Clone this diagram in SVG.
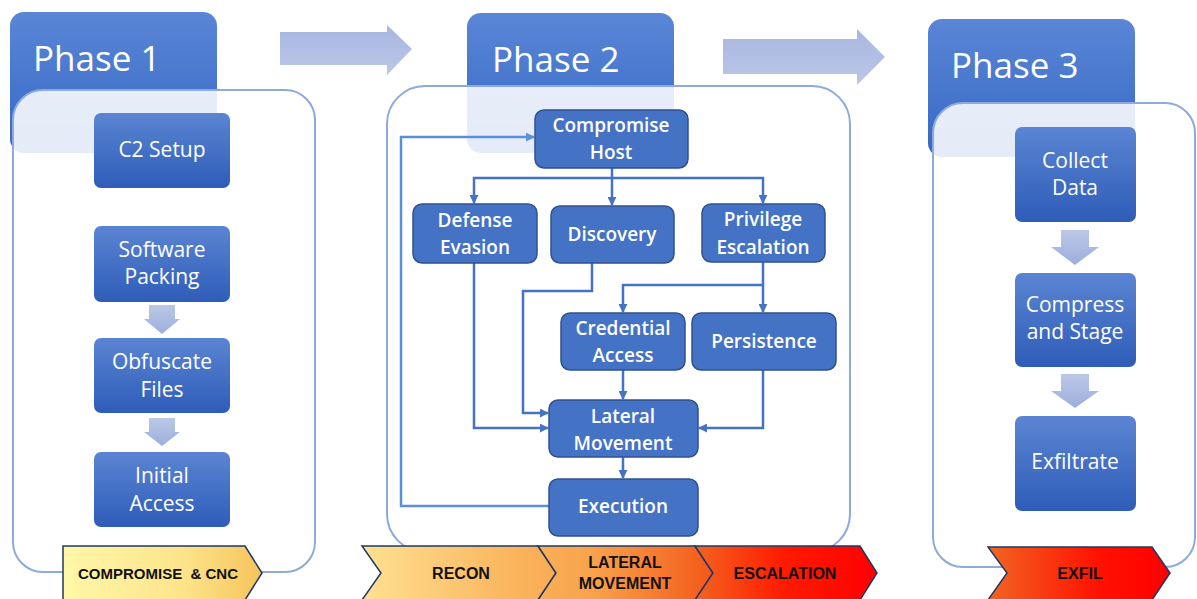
<svg xmlns="http://www.w3.org/2000/svg" width="1197" height="599" viewBox="0 0 1197 599">
<defs>
  <linearGradient id="gHdr" x1="0" y1="0" x2="0" y2="1">
    <stop offset="0" stop-color="#5A86D6"/>
    <stop offset="1" stop-color="#3568C4"/>
  </linearGradient>
  <linearGradient id="gNode" x1="0" y1="0" x2="0" y2="1">
    <stop offset="0" stop-color="#5B85D3"/>
    <stop offset="1" stop-color="#2E5CB8"/>
  </linearGradient>
  <linearGradient id="gDown" x1="0" y1="0" x2="0" y2="1">
    <stop offset="0" stop-color="#BCC8E8"/>
    <stop offset="1" stop-color="#9CAEDB"/>
  </linearGradient>
  <linearGradient id="gBig" x1="0" y1="0" x2="0" y2="1">
    <stop offset="0" stop-color="#A8B6DF"/>
    <stop offset="1" stop-color="#BCC7E8"/>
  </linearGradient>
  <linearGradient id="gB1" gradientUnits="userSpaceOnUse" x1="63" y1="0" x2="262" y2="0">
    <stop offset="0" stop-color="#FFF7A8"/>
    <stop offset="0.6" stop-color="#FDE48A"/>
    <stop offset="1" stop-color="#F6C45C"/>
  </linearGradient>
  <linearGradient id="gB2" gradientUnits="userSpaceOnUse" x1="362" y1="0" x2="877" y2="0">
    <stop offset="0" stop-color="#FFE192"/>
    <stop offset="0.3" stop-color="#FAB45C"/>
    <stop offset="0.45" stop-color="#F8A24C"/>
    <stop offset="0.65" stop-color="#F4621F"/>
    <stop offset="0.82" stop-color="#FF1A00"/>
    <stop offset="1" stop-color="#FF0000"/>
  </linearGradient>
  <linearGradient id="gB3" gradientUnits="userSpaceOnUse" x1="988" y1="0" x2="1170" y2="0">
    <stop offset="0" stop-color="#F26522"/>
    <stop offset="0.6" stop-color="#FF1200"/>
    <stop offset="1" stop-color="#FF0000"/>
  </linearGradient>
  <marker id="ah" viewBox="0 0 10 10" refX="9" refY="5" markerWidth="9" markerHeight="9" markerUnits="userSpaceOnUse" orient="auto">
    <path d="M0,0 L10,5 L0,10 Z" fill="#4472C4"/>
  </marker>
  <marker id="ahL" viewBox="0 0 10 10" refX="9" refY="5" markerWidth="9" markerHeight="9" markerUnits="userSpaceOnUse" orient="auto">
    <path d="M0,0 L10,5 L0,10 Z" fill="#5B8FD8"/>
  </marker>
</defs>
<style>
  .hdr { fill: url(#gHdr); }
  .hdrt { font-family: "Open Sans", "Liberation Sans", sans-serif; font-size: 35px; fill: #FFFFFF; }
  .cont { fill: #FFFFFF; fill-opacity: 0.87; stroke: #8EA9DB; stroke-width: 2; }
  .n1 { fill: url(#gNode); }
  .n2 { fill: #4472C4; stroke: #2F528F; stroke-width: 1.5; }
  .t1 { font-family: "Open Sans", "Liberation Sans", sans-serif; font-size: 21px; fill: #FFFFFF; text-anchor: middle; }
  .t2 { font-family: "Open Sans", "Liberation Sans", sans-serif; font-size: 19px; font-weight: 600; fill: #FFFFFF; text-anchor: middle; }
  .down { fill: url(#gDown); }
  .big { fill: url(#gBig); }
  .ban { stroke: #1F3864; stroke-width: 1.5; stroke-linejoin: miter; }
  .bt { font-family: "Liberation Sans", Arial, sans-serif; font-size: 16px; font-weight: bold; fill: #111111; text-anchor: middle; white-space: pre; }
  .c { fill: none; stroke: #4472C4; stroke-width: 2.5; marker-end: url(#ah); }
  .cl { fill: none; stroke: #5B8FD8; stroke-width: 2.5; marker-end: url(#ahL); }
</style>

<!-- Big flow arrows -->
<polygon class="big" points="280,32 387,32 387,25 412,49 387,75 387,65 280,65"/>
<polygon class="big" points="723,39 857,39 857,29 885,57 857,85 857,74 723,74"/>

<!-- Phase 1 -->
<g id="phase1">
  <rect class="hdr" x="10" y="12" width="207" height="141" rx="14"/>
  <text class="hdrt" x="33" y="71">Phase 1</text>
  <rect class="cont" x="13" y="90" width="302" height="482" rx="30"/>
</g>
<g id="c2setup">
  <rect class="n1" x="94" y="113" width="136" height="75" rx="7"/>
  <text class="t1" x="162" y="157">C2 Setup</text>
</g>
<g id="softwarepacking">
  <rect class="n1" x="94" y="226" width="136" height="76" rx="7"/>
  <text class="t1" x="162" y="257">Software</text>
  <text class="t1" x="162" y="284">Packing</text>
</g>
<g id="obfuscatefiles">
  <rect class="n1" x="94" y="338" width="136" height="75" rx="7"/>
  <text class="t1" x="162" y="369">Obfuscate</text>
  <text class="t1" x="162" y="397">Files</text>
</g>
<g id="initialaccess">
  <rect class="n1" x="94" y="452" width="136" height="75" rx="7"/>
  <text class="t1" x="162" y="483">Initial</text>
  <text class="t1" x="162" y="511">Access</text>
</g>
<polygon class="down" points="149,305 175,305 175,319 180,319 162,334 144,319 149,319"/>
<polygon class="down" points="149,418 175,418 175,432 180,432 162,446 144,432 149,432"/>
<g id="banner1">
  <polygon class="ban" fill="url(#gB1)" points="63,546 245,546 262,573 245,600 63,600"/>
  <text class="bt" x="158" y="579" style="font-size:15px">COMPROMISE  &amp; CNC</text>
</g>

<!-- Phase 2 -->
<g id="phase2">
  <rect class="hdr" x="467" y="13" width="207" height="140" rx="14"/>
  <text class="hdrt" x="492" y="72">Phase 2</text>
  <rect class="cont" x="387" y="86" width="463" height="466" rx="38"/>
</g>

<g id="connectors">
  <path class="c" d="M612,168 V205"/>
  <path class="c" d="M612,178 H474 V203"/>
  <path class="c" d="M612,178 H763 V203"/>
  <path class="c" d="M763,262 V312"/>
  <path class="c" d="M763,285 H623 V312"/>
  <path class="c" d="M592,263 V291 H523 V413 H548"/>
  <path class="c" d="M474,263 V428 H548"/>
  <path class="c" d="M623,370 V399"/>
  <path class="c" d="M763,370 V428 H699"/>
  <path class="c" d="M623,457 V478"/>
  <path class="cl" d="M549,506 H401 V137 H534"/>
</g>

<g id="compromisehost">
  <rect class="n2" x="535" y="110" width="153" height="58" rx="9"/>
  <text class="t2" x="611" y="132">Compromise</text>
  <text class="t2" x="611" y="159">Host</text>
</g>
<g id="defenseevasion">
  <rect class="n2" x="413" y="204" width="124" height="59" rx="9"/>
  <text class="t2" x="475" y="227">Defense</text>
  <text class="t2" x="475" y="254">Evasion</text>
</g>
<g id="discovery">
  <rect class="n2" x="551" y="206" width="123" height="57" rx="9"/>
  <text class="t2" x="612" y="241">Discovery</text>
</g>
<g id="privilegeescalation">
  <rect class="n2" x="702" y="204" width="123" height="58" rx="9"/>
  <text class="t2" x="763" y="226">Privilege</text>
  <text class="t2" x="763" y="254">Escalation</text>
</g>
<g id="credentialaccess">
  <rect class="n2" x="561" y="313" width="124" height="57" rx="9"/>
  <text class="t2" x="623" y="335">Credential</text>
  <text class="t2" x="623" y="362">Access</text>
</g>
<g id="persistence">
  <rect class="n2" x="692" y="313" width="144" height="57" rx="9"/>
  <text class="t2" x="764" y="348">Persistence</text>
</g>
<g id="lateralmovement">
  <rect class="n2" x="549" y="400" width="149" height="57" rx="9"/>
  <text class="t2" x="623" y="423">Lateral</text>
  <text class="t2" x="623" y="450">Movement</text>
</g>
<g id="execution">
  <rect class="n2" x="549" y="479" width="149" height="57" rx="9"/>
  <text class="t2" x="623" y="513">Execution</text>
</g>
<g id="banner2">
  <polygon class="ban" fill="url(#gB2)" points="362,546 538,546 556,573 538,600 362,600 381,573"/>
  <polygon class="ban" fill="url(#gB2)" points="538,546 695,546 713,573 695,600 538,600 556,573"/>
  <polygon class="ban" fill="url(#gB2)" points="695,546 860,546 877,573 860,600 695,600 713,573"/>
  <text class="bt" x="461" y="579">RECON</text>
  <text class="bt" x="625" y="568">LATERAL</text>
  <text class="bt" x="625" y="589">MOVEMENT</text>
  <text class="bt" x="785" y="579">ESCALATION</text>
</g>

<!-- Phase 3 -->
<g id="phase3">
  <rect class="hdr" x="928" y="19" width="207" height="138" rx="14"/>
  <text class="hdrt" x="951" y="78">Phase 3</text>
  <rect class="cont" x="933" y="103" width="262" height="464" rx="30"/>
</g>
<g id="collectdata">
  <rect class="n1" x="1015" y="127" width="121" height="95" rx="7"/>
  <text class="t1" x="1075" y="168">Collect</text>
  <text class="t1" x="1075" y="195">Data</text>
</g>
<g id="compressandstage">
  <rect class="n1" x="1015" y="273" width="121" height="94" rx="7"/>
  <text class="t1" x="1075" y="312">Compress</text>
  <text class="t1" x="1075" y="339">and Stage</text>
</g>
<g id="exfiltrate">
  <rect class="n1" x="1015" y="416" width="121" height="95" rx="7"/>
  <text class="t1" x="1075" y="469">Exfiltrate</text>
</g>
<polygon class="down" points="1061,230 1089,230 1089,247 1099,247 1075,265 1051,247 1061,247"/>
<polygon class="down" points="1061,374 1089,374 1089,391 1099,391 1075,408 1051,391 1061,391"/>
<g id="banner3">
  <polygon class="ban" fill="url(#gB3)" points="988,547 1152,547 1170,573 1152,600 988,600 1007,573"/>
  <text class="bt" x="1080" y="579">EXFIL</text>
</g>
</svg>
